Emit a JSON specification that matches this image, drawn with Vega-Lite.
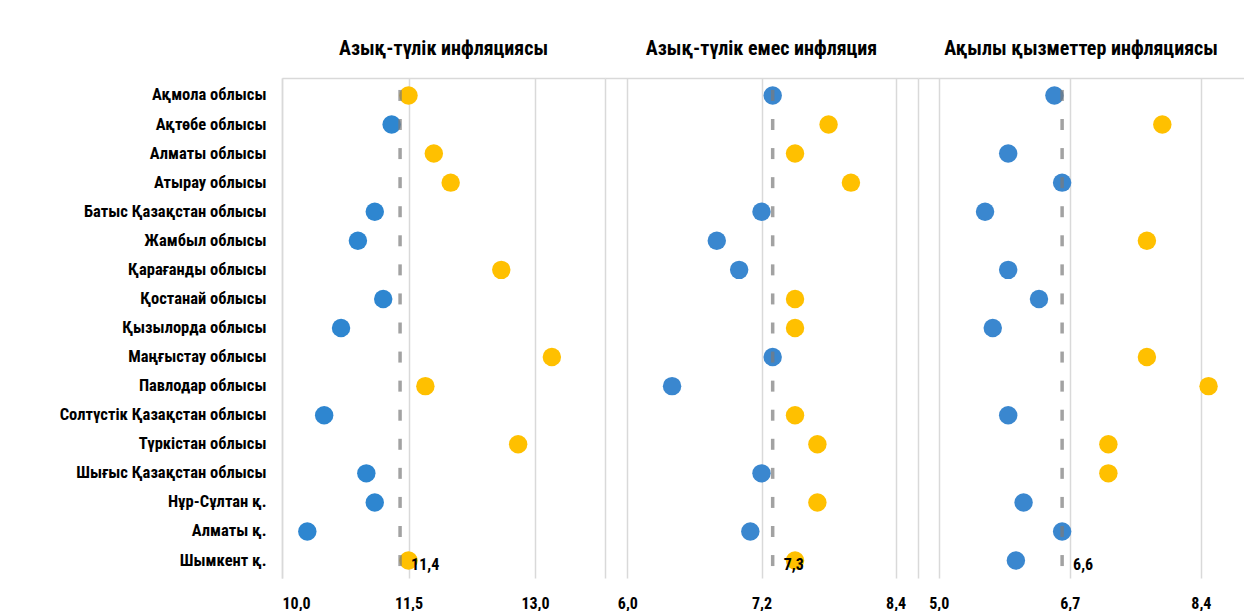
{
  "$schema": "https://vega.github.io/schema/vega-lite/v6.json",
  "background": "white",
  "padding": {"left": 5, "top": 39, "right": 0, "bottom": 0},
  "spacing": 0,
  "datasets": {
    "d": [
      {"region": "Ақмола облысы", "food": 11.5, "nonfood": 7.3, "services": 6.5},
      {"region": "Ақтөбе облысы", "food": 11.3, "nonfood": 7.8, "services": 7.9},
      {"region": "Алматы облысы", "food": 11.8, "nonfood": 7.5, "services": 5.9},
      {"region": "Атырау облысы", "food": 12.0, "nonfood": 8.0, "services": 6.6},
      {"region": "Батыс Қазақстан облысы", "food": 11.1, "nonfood": 7.2, "services": 5.6},
      {"region": "Жамбыл облысы", "food": 10.9, "nonfood": 6.8, "services": 7.7},
      {"region": "Қарағанды облысы", "food": 12.6, "nonfood": 7.0, "services": 5.9},
      {"region": "Қостанай облысы", "food": 11.2, "nonfood": 7.5, "services": 6.3},
      {"region": "Қызылорда облысы", "food": 10.7, "nonfood": 7.5, "services": 5.7},
      {"region": "Маңғыстау облысы", "food": 13.2, "nonfood": 7.3, "services": 7.7},
      {"region": "Павлодар облысы", "food": 11.7, "nonfood": 6.4, "services": 8.5},
      {"region": "Солтүстік Қазақстан облысы", "food": 10.5, "nonfood": 7.5, "services": 5.9},
      {"region": "Түркістан облысы", "food": 12.8, "nonfood": 7.7, "services": 7.2},
      {"region": "Шығыс Қазақстан облысы", "food": 11.0, "nonfood": 7.2, "services": 7.2},
      {"region": "Нұр-Сұлтан қ.", "food": 11.1, "nonfood": 7.7, "services": 6.1},
      {"region": "Алматы қ.", "food": 10.3, "nonfood": 7.1, "services": 6.6},
      {"region": "Шымкент қ.", "food": 11.5, "nonfood": 7.5, "services": 6.0}
    ]
  },
  "config": {
    "font": "Liberation Sans Narrow, Roboto Condensed, Open Sans, sans-serif",
    "view": {"stroke": null},
    "title": {"fontSize": 20, "fontWeight": "bold", "color": "#000000", "offset": 19, "font": "Liberation Sans Narrow, Roboto Condensed, Open Sans, sans-serif"},
    "axis": {"labelFont": "Liberation Sans Narrow, Roboto Condensed, Open Sans, sans-serif", "labelFontSize": 16, "labelFontWeight": "bold", "labelColor": "#000000", "title": null},
    "text": {"font": "Liberation Sans Narrow, Roboto Condensed, Open Sans, sans-serif"}
  },
  "hconcat": [
    {
      "width": 323,
      "height": 500,
      "title": "Азық-түлік инфляциясы",
      "data": {"name": "d"},
      "layer": [
        {
          "mark": {"type": "point", "filled": true, "shape": "circle", "size": 340, "opacity": 1},
          "encoding": {
            "y": {"field": "region", "type": "nominal", "sort": null, "scale": {"paddingInner": 0, "paddingOuter": 0.1},
              "axis": {"labelPadding": 16, "ticks": false, "domain": true, "domainColor": "#D9D9D9", "domainWidth": 1.5, "minExtent": 277, "maxExtent": 277, "labelLimit": 300, "labelFontSize": 16.5}},
            "x": {"field": "food", "type": "quantitative", "scale": {"domain": [10, 13.83], "nice": false, "zero": false},
              "axis": {"values": [10, 11.5, 13], "grid": true, "gridColor": "#D9D9D9", "gridWidth": 1.5, "domain": false, "ticks": false, "labelPadding": 17, "labelExpr": "replace(format(datum.value, '.1f'), '.', ',')"}},
            "color": {"condition": {"test": "datum.food > 11.4", "value": "#FFC000"}, "value": "#2E86D0"}
          }
        },
        {
          "mark": {"type": "tick", "color": "#7A7A7A", "size": 11, "thickness": 3.5},
          "encoding": {
            "x": {"datum": 11.4, "type": "quantitative", "axis": {"orient": "top", "labels": false, "ticks": false, "grid": false, "domain": true, "domainColor": "#D9D9D9", "domainWidth": 1.5}},
            "y": {"field": "region", "type": "nominal", "sort": null}
          }
        },
        {
          "data": {"values": [{"avg": "11,4", "region": "Шымкент қ."}]},
          "mark": {"type": "text", "align": "left", "baseline": "middle", "dx": 11, "dy": 4, "fontSize": 16, "fontWeight": "bold", "color": "#000000"},
          "encoding": {
            "x": {"datum": 11.4, "type": "quantitative", "axis": null},
            "y": {"field": "region", "type": "nominal", "sort": null},
            "text": {"field": "avg"}
          }
        }
      ],
      "resolve": {"axis": {"x": "independent"}}
    },
    {
      "width": 313,
      "height": 500,
      "title": "Азық-түлік емес инфляция",
      "data": {"name": "d"},
      "layer": [
        {
          "mark": {"type": "point", "filled": true, "shape": "circle", "size": 340, "opacity": 1},
          "encoding": {
            "y": {"field": "region", "type": "nominal", "sort": null, "scale": {"paddingInner": 0, "paddingOuter": 0.1},
              "axis": {"labels": false, "ticks": false, "domain": true, "domainColor": "#D9D9D9", "domainWidth": 1.5, "minExtent": 0, "maxExtent": 0}},
            "x": {"field": "nonfood", "type": "quantitative", "scale": {"domain": [5.8, 8.6], "nice": false, "zero": false},
              "axis": {"values": [6, 7.2, 8.4], "grid": true, "gridColor": "#D9D9D9", "gridWidth": 1.5, "domain": false, "ticks": false, "labelPadding": 17, "labelExpr": "replace(format(datum.value, '.1f'), '.', ',')"}},
            "color": {"condition": {"test": "datum.nonfood > 7.3", "value": "#FFC000"}, "value": "#3A87CF"}
          }
        },
        {
          "mark": {"type": "tick", "color": "#7A7A7A", "size": 11, "thickness": 3.5},
          "encoding": {
            "x": {"datum": 7.3, "type": "quantitative", "axis": {"orient": "top", "labels": false, "ticks": false, "grid": false, "domain": true, "domainColor": "#D9D9D9", "domainWidth": 1.5}},
            "y": {"field": "region", "type": "nominal", "sort": null}
          }
        },
        {
          "data": {"values": [{"avg": "7,3", "region": "Шымкент қ."}]},
          "mark": {"type": "text", "align": "left", "baseline": "middle", "dx": 11, "dy": 4, "fontSize": 16, "fontWeight": "bold", "color": "#000000"},
          "encoding": {
            "x": {"datum": 7.3, "type": "quantitative", "axis": null},
            "y": {"field": "region", "type": "nominal", "sort": null},
            "text": {"field": "avg"}
          }
        }
      ],
      "resolve": {"axis": {"x": "independent"}}
    },
    {
      "width": 326,
      "height": 500,
      "title": "Ақылы қызметтер инфляциясы",
      "data": {"name": "d"},
      "layer": [
        {
          "mark": {"type": "point", "filled": true, "shape": "circle", "size": 340, "opacity": 1},
          "encoding": {
            "y": {"field": "region", "type": "nominal", "sort": null, "scale": {"paddingInner": 0, "paddingOuter": 0.1},
              "axis": {"labels": false, "ticks": false, "domain": true, "domainColor": "#D9D9D9", "domainWidth": 1.5, "minExtent": 0, "maxExtent": 0}},
            "x": {"field": "services", "type": "quantitative", "scale": {"domain": [4.73, 8.96], "nice": false, "zero": false},
              "axis": {"values": [5, 6.7, 8.4], "grid": true, "gridColor": "#D9D9D9", "gridWidth": 1.5, "domain": false, "ticks": false, "labelPadding": 17, "labelExpr": "replace(format(datum.value, '.1f'), '.', ',')"}},
            "color": {"condition": {"test": "datum.services > 6.6", "value": "#FFC000"}, "value": "#3A87CF"}
          }
        },
        {
          "mark": {"type": "tick", "color": "#7A7A7A", "size": 11, "thickness": 3.5},
          "encoding": {
            "x": {"datum": 6.6, "type": "quantitative", "axis": {"orient": "top", "labels": false, "ticks": false, "grid": false, "domain": true, "domainColor": "#D9D9D9", "domainWidth": 1.5}},
            "y": {"field": "region", "type": "nominal", "sort": null}
          }
        },
        {
          "data": {"values": [{"avg": "6,6", "region": "Шымкент қ."}]},
          "mark": {"type": "text", "align": "left", "baseline": "middle", "dx": 11, "dy": 4, "fontSize": 16, "fontWeight": "bold", "color": "#000000"},
          "encoding": {
            "x": {"datum": 6.6, "type": "quantitative", "axis": null},
            "y": {"field": "region", "type": "nominal", "sort": null},
            "text": {"field": "avg"}
          }
        }
      ],
      "resolve": {"axis": {"x": "independent"}}
    }
  ]
}
